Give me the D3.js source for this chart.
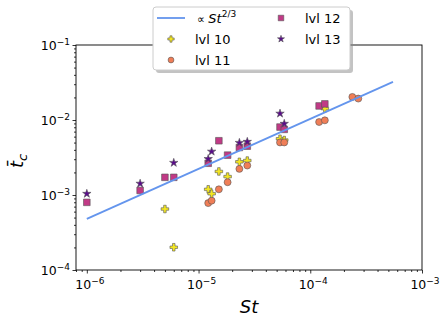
<!DOCTYPE html>
<html><head><meta charset="utf-8">
<script src="https://cdn.jsdelivr.net/npm/d3@7"></script>
<style>body{margin:0;background:#fff} text{font-family:"DejaVu Sans",sans-serif}</style>
</head><body><svg id="c" width="448" height="323"></svg>
<script>
// ---- data ----
const lvl10X = [5e-6, 6e-6, 1.22e-5, 1.31e-5, 1.52e-5, 1.82e-5, 2.32e-5, 2.73e-5, 5.36e-5, 5.85e-5, 1.35e-4];
const lvl10Y = [6.5e-4, 2.01e-4, 1.19e-3, 1.04e-3, 2.06e-3, 1.76e-3, 2.77e-3, 2.88e-3, 5.62e-3, 5.4e-3, 1.42e-2];
const lvl11X = [1.22e-5, 1.31e-5, 1.52e-5, 1.82e-5, 2.32e-5, 2.73e-5, 5.36e-5, 5.85e-5, 1.2e-4, 1.35e-4, 2.38e-4, 2.69e-4];
const lvl11Y = [7.8e-4, 8.4e-4, 1.19e-3, 1.48e-3, 2.23e-3, 2.47e-3, 5.02e-3, 5.02e-3, 9.4e-3, 9.9e-3, 2.03e-2, 1.93e-2];
const lvl12X = [1e-6, 3e-6, 5e-6, 6e-6, 1.22e-5, 1.52e-5, 1.82e-5, 2.32e-5, 2.73e-5, 5.36e-5, 5.85e-5, 1.2e-4, 1.35e-4];
const lvl12Y = [7.98e-4, 1.15e-3, 1.72e-3, 1.72e-3, 2.65e-3, 5.29e-3, 3.4e-3, 4.3e-3, 4.48e-3, 8.05e-3, 7.5e-3, 1.54e-2, 1.64e-2];
const lvl13X = [1e-6, 3e-6, 6e-6, 1.22e-5, 1.31e-5, 2.32e-5, 2.73e-5, 5.36e-5, 5.85e-5];
const lvl13Y = [1.04e-3, 1.42e-3, 2.69e-3, 3.03e-3, 3.8e-3, 4.97e-3, 5.13e-3, 1.22e-2, 8.93e-3];
const fitX = [1e-6, 5.5e-4];
const fitY = [4.8e-4, 3.22e-2];
const xTickVals = [1e-6, 1e-5, 1e-4, 1e-3];
const xTickExp = ["−6", "−5", "−4", "−3"];
const yTickVals = [1e-4, 1e-3, 1e-2, 1e-1];
const yTickExp = ["−4", "−3", "−2", "−1"];
const seriesNames = ["lvl 10", "lvl 11", "lvl 12", "lvl 13"];

// ---- layout ----
const svg = d3.select("#c");
const L = 76, R = 422, T = 45, B = 270;
const x = d3.scaleLog().domain([8e-7, 1e-3]).range([L, R]);
const y = d3.scaleLog().domain([1e-4, 1e-1]).range([B, T]);

function minors(lo, hi) {
  const out = [];
  for (let e = -8; e <= 0; e++) for (let m = 2; m <= 9; m++) {
    const v = m * Math.pow(10, e);
    if (v >= lo * 0.9999 && v <= hi * 1.0001) out.push(v);
  }
  return out;
}

// axes
const gx = svg.append("g").attr("transform", `translate(0,${B})`);
gx.call(d3.axisBottom(x).tickValues(minors(8e-7, 1e-3)).tickSize(2).tickFormat(""));
gx.append("g").call(d3.axisBottom(x).tickValues(xTickVals).tickSize(3.5).tickFormat(""));
gx.selectAll(".domain").remove();
gx.selectAll("line").attr("stroke", "#000").attr("stroke-width", 0.8);

const gy = svg.append("g").attr("transform", `translate(${L},0)`);
gy.call(d3.axisLeft(y).tickValues(minors(1e-4, 1e-1)).tickSize(2).tickFormat(""));
gy.append("g").call(d3.axisLeft(y).tickValues(yTickVals).tickSize(3.5).tickFormat(""));
gy.selectAll(".domain").remove();
gy.selectAll("line").attr("stroke", "#000").attr("stroke-width", 0.8);

// tick labels
xTickVals.forEach((v, i) => {
  const t = svg.append("text").attr("x", x(v) + 3).attr("y", B + 19)
    .attr("text-anchor", "middle").attr("font-size", 12.5).attr("fill", "#000");
  t.append("tspan").text("10");
  t.append("tspan").attr("dy", -5.5).attr("font-size", 9).text(xTickExp[i]);
});
yTickVals.forEach((v, i) => {
  const t = svg.append("text").attr("x", L - 6).attr("y", y(v) + 5)
    .attr("text-anchor", "end").attr("font-size", 12.5).attr("fill", "#000");
  t.append("tspan").text("10");
  t.append("tspan").attr("dy", -5.5).attr("font-size", 9).text(yTickExp[i]);
});

// axis labels
svg.append("text").attr("x", 249).attr("y", 313).attr("text-anchor", "middle")
  .attr("font-size", 18).attr("font-style", "italic").text("St");
const yl = svg.append("text").attr("transform", "translate(23,161) rotate(-90)")
  .attr("text-anchor", "middle").attr("font-size", 18);
yl.append("tspan").attr("font-style", "italic").text("t\u0304");
yl.append("tspan").attr("font-style", "italic").attr("font-size", 13).attr("dy", 4).text("c");

// markers
const colors = ["#f3e622", "#f07e57", "#c13a86", "#5b0c8b"];
const symbols = [d3.symbolCross, d3.symbolCircle, d3.symbolSquare, d3.symbolStar];
const sizes = [32, 38, 44, 22];
const allX = [lvl10X, lvl11X, lvl12X, lvl13X];
const allY = [lvl10Y, lvl11Y, lvl12Y, lvl13Y];
const plot = svg.append("g");
allX.forEach((xs, s) => {
  const data = xs.map((v, i) => [v, allY[s][i]]);
  plot.selectAll(null).data(data).enter().append("path")
    .attr("d", d3.symbol().type(symbols[s]).size(sizes[s]))
    .attr("transform", d => `translate(${x(d[0])},${y(d[1])})`)
    .attr("fill", colors[s]).attr("stroke", "#555").attr("stroke-width", 0.6);
});

// fit line
const line = d3.line().x(d => x(d[0])).y(d => y(d[1]));
svg.append("path").datum(fitX.map((v, i) => [v, fitY[i]]))
  .attr("d", line).attr("fill", "none").attr("stroke", "#6495ed").attr("stroke-width", 1.8);

// frame
svg.append("rect").attr("x", L).attr("y", T).attr("width", R - L).attr("height", B - T)
  .attr("fill", "none").attr("stroke", "#000").attr("stroke-width", 0.9);

// legend
const lg = svg.append("g");
lg.append("rect").attr("x", 156).attr("y", 10).attr("width", 197).attr("height", 63)
  .attr("rx", 3).attr("fill", "#888").attr("opacity", 0.5);
lg.append("rect").attr("x", 153).attr("y", 7).attr("width", 197).attr("height", 63)
  .attr("rx", 3).attr("fill", "#fff").attr("stroke", "#ccc").attr("stroke-width", 1);
lg.append("line").attr("x1", 157).attr("x2", 185).attr("y1", 18).attr("y2", 18)
  .attr("stroke", "#6495ed").attr("stroke-width", 1.8);
const lt = lg.append("text").attr("x", 197).attr("y", 22.5).attr("font-size", 13);
lt.append("tspan").attr("font-size", 11).text("∝ ");
lt.append("tspan").attr("font-style", "italic").text("St");
lt.append("tspan").attr("dy", -5.5).attr("font-size", 9).text("2/3");
const legPos = [[171, 39], [171, 60], [281, 18], [281, 39]];
seriesNames.forEach((n, s) => {
  lg.append("path").attr("d", d3.symbol().type(symbols[s]).size(sizes[s] * 0.7))
    .attr("transform", `translate(${legPos[s][0]},${legPos[s][1]})`)
    .attr("fill", colors[s]).attr("stroke", "#555").attr("stroke-width", 0.6);
  lg.append("text").attr("x", legPos[s][0] + 24).attr("y", legPos[s][1] + 5)
    .attr("font-size", 13).text(n);
});
</script></body></html>
